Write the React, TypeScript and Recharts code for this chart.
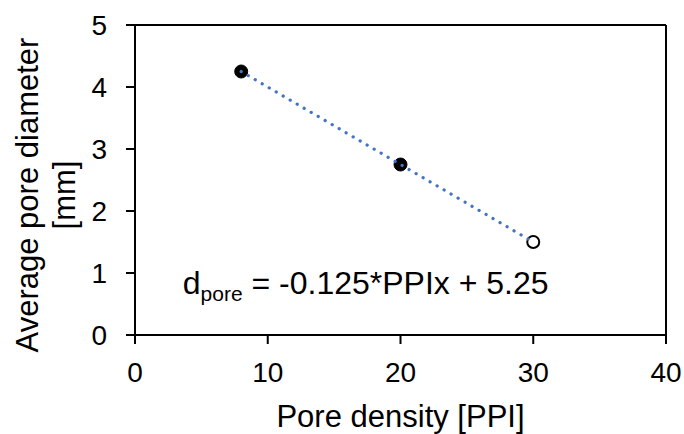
import React from 'react';
import { ScatterChart, Scatter, XAxis, YAxis, ReferenceLine, ReferenceDot } from 'recharts';

// measured points (filled) and extrapolated point (open)
const measuredPpi = [8, 20];
const measuredDiameter = [4.25, 2.75];
const predictedPpi = [30];
const predictedDiameter = [1.5];

// linear trendline end points
const trendPpi = [8, 30];
const trendDiameter = [4.25, 1.5];

const xTicks = [0, 10, 20, 30, 40];
const yTicks = [0, 1, 2, 3, 4, 5];

const FONT = '"Liberation Sans", Arial, sans-serif';

const toPoints = (xs: number[], ys: number[]) => xs.map((x, i) => ({ x, y: ys[i] }));

const measured = toPoints(measuredPpi, measuredDiameter);
const predicted = toPoints(predictedPpi, predictedDiameter);
const trend = toPoints(trendPpi, trendDiameter);

const FilledDot = (props: any) => <circle cx={props.cx} cy={props.cy} r={6.5} fill="#000" stroke="#000" strokeWidth={1} />;
const OpenDot = (props: any) => <circle cx={props.cx} cy={props.cy} r={6} fill="#fff" stroke="#000" strokeWidth={2} />;
const NoDot = () => <g />;

// two-line rotated y title, like Excel's wrapped axis title
const YTitle = (props: any) => {
    const { viewBox } = props;
    const cy = viewBox.y + viewBox.height / 2 + 15;
    return (
        <g>
            <text transform={`rotate(-90, 38, ${cy})`} x={38} y={cy} textAnchor="middle" fontFamily={FONT} fontSize={31} fill="#000">
                Average pore diameter
            </text>
            <text transform={`rotate(-90, 75, ${cy})`} x={75} y={cy} textAnchor="middle" fontFamily={FONT} fontSize={31} fill="#000">
                [mm]
            </text>
        </g>
    );
};

const Equation = (props: any) => {
    const { viewBox } = props;
    return (
        <text x={viewBox.x} y={viewBox.y} fontFamily={FONT} fontSize={32} fill="#000">
            d
            <tspan fontSize={21} dy={7}>pore</tspan>
            <tspan dy={-7}> = -0.125*PPIx + 5.25</tspan>
        </text>
    );
};

const App: React.FC = () => {
    return (
        <div style={{ position: 'absolute', left: 0, top: 0, width: 684, height: 434, background: '#fff' }}>
            <ScatterChart width={684} height={434} margin={{ top: 25, right: 18, bottom: 0, left: 0 }}>
                <XAxis
                    type="number"
                    dataKey="x"
                    domain={[0, 40]}
                    ticks={xTicks}
                    height={99}
                    stroke="#000"
                    strokeWidth={2}
                    tickSize={9}
                    tickMargin={18}
                    tick={{ fill: '#000', fontSize: 28, fontFamily: FONT }}
                    label={{ value: 'Pore density [PPI]', position: 'insideBottom', offset: 7, fill: '#000', fontSize: 31, fontFamily: FONT }}
                />
                <YAxis
                    type="number"
                    dataKey="y"
                    domain={[0, 5]}
                    ticks={yTicks}
                    width={135}
                    stroke="#000"
                    strokeWidth={2}
                    tickSize={9}
                    tickMargin={19}
                    tick={{ fill: '#000', fontSize: 28, fontFamily: FONT }}
                    label={{ content: YTitle }}
                />
                <ReferenceLine y={5} stroke="#000" strokeWidth={2} />
                <ReferenceLine x={40} stroke="#000" strokeWidth={2} />
                <Scatter data={measured} shape={FilledDot} isAnimationActive={false} />
                <Scatter data={predicted} shape={OpenDot} isAnimationActive={false} />
                <Scatter
                    data={trend}
                    shape={NoDot}
                    line={{ stroke: '#4472C4', strokeWidth: 3.2, strokeDasharray: '0.1 8', strokeLinecap: 'round' }}
                    isAnimationActive={false}
                />
                <ReferenceDot x={3.6} y={0.66} r={0} fill="none" stroke="none" label={{ content: Equation }} />
            </ScatterChart>
        </div>
    );
};

export default App;
